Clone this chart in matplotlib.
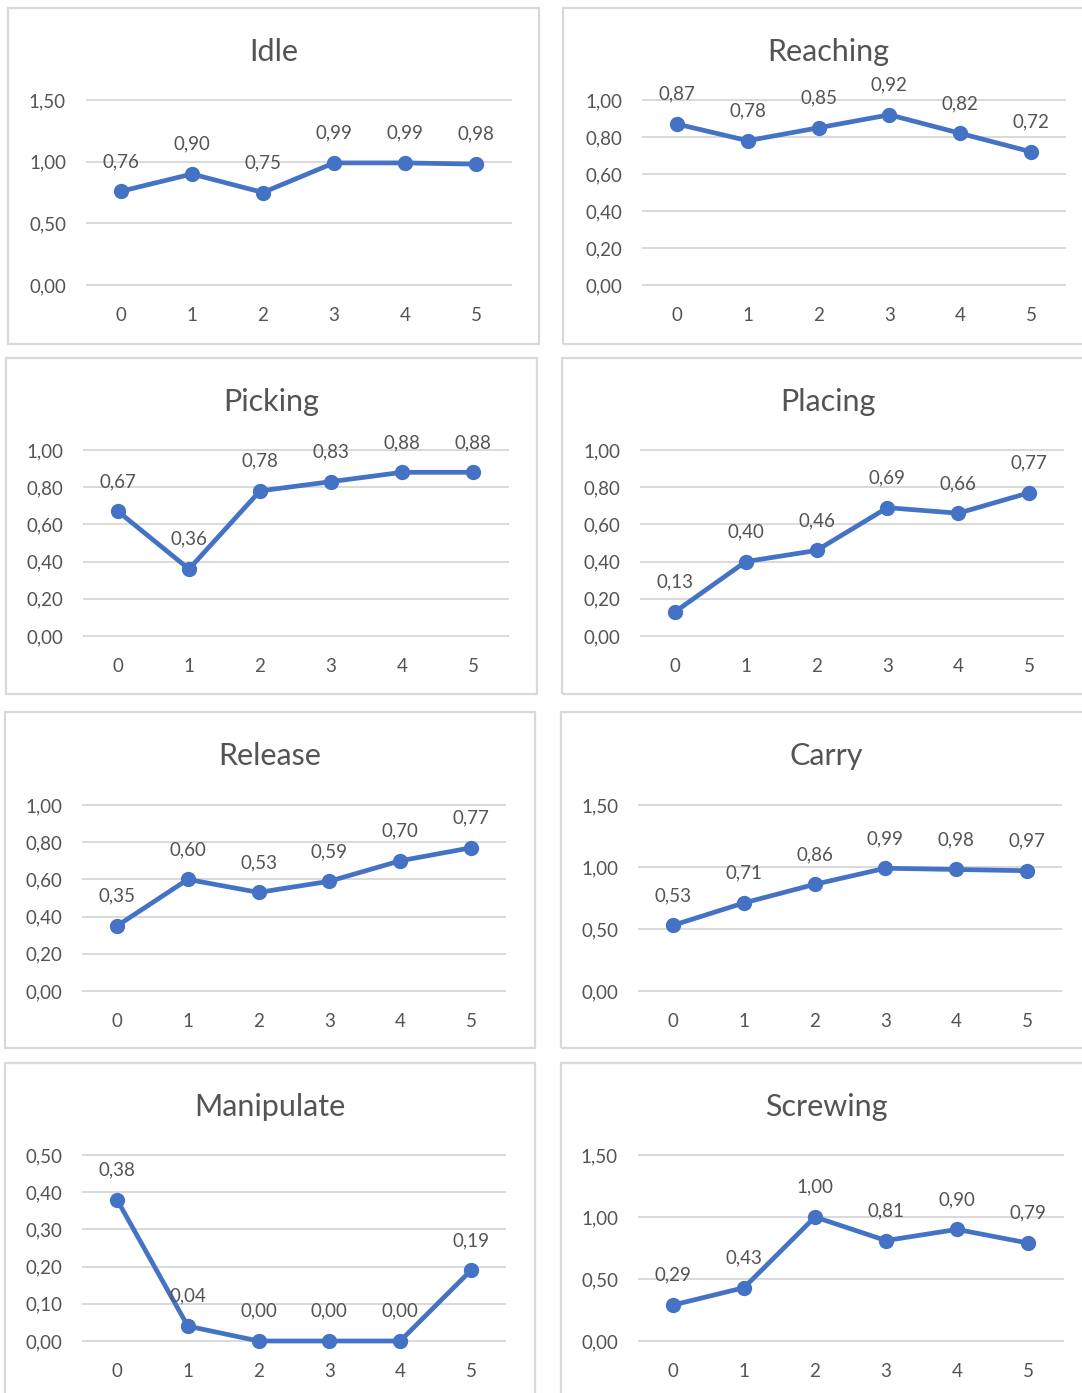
import matplotlib.pyplot as plt
import numpy as np
from matplotlib.patches import Rectangle

W, H = 1082, 1393

titles = ["Idle", "Reaching", "Picking", "Placing", "Release", "Carry", "Manipulate", "Screwing"]
steps = [0, 1, 2, 3, 4, 5]
idle = [0.76, 0.90, 0.75, 0.99, 0.99, 0.98]
reaching = [0.87, 0.78, 0.85, 0.92, 0.82, 0.72]
picking = [0.67, 0.36, 0.78, 0.83, 0.88, 0.88]
placing = [0.13, 0.40, 0.46, 0.69, 0.66, 0.77]
release = [0.35, 0.60, 0.53, 0.59, 0.70, 0.77]
carry = [0.53, 0.71, 0.86, 0.99, 0.98, 0.97]
manipulate = [0.38, 0.04, 0.00, 0.00, 0.00, 0.19]
screwing = [0.29, 0.43, 1.00, 0.81, 0.90, 0.79]
series = [idle, reaching, picking, placing, release, carry, manipulate, screwing]
ymax = [1.5, 1.0, 1.0, 1.0, 1.0, 1.5, 0.5, 1.5]
ystep = [0.5, 0.2, 0.2, 0.2, 0.2, 0.5, 0.1, 0.5]

# pixel layout: chart box (x0, y0, x1, y1) and plot area (left, top, right, bottom)
boxes = [(8, 8, 539, 344), (563, 8, 1094, 344),
         (6, 358, 537, 694), (562, 358, 1093, 694),
         (5, 712, 535, 1048), (561, 712, 1092, 1048),
         (5, 1063, 535, 1400), (561, 1063, 1092, 1400)]
plots = [(85.5, 100, 511.5, 285), (641.6, 100, 1066.4, 285),
         (82.5, 450, 508.5, 636), (639.6, 450, 1064.4, 636),
         (81.6, 805, 506.4, 991), (637.6, 805, 1062.4, 991),
         (81.6, 1155, 506.4, 1341), (637.5, 1155, 1063.5, 1341)]

blue = "#4472C4"
txt = "#545454"
grid = "#D9D9D9"
plt.rcParams["font.family"] = ["Lato", "DejaVu Sans"]

fig = plt.figure(figsize=(W / 100, H / 100), dpi=100)


def fmt(v):
    return f"{v:.2f}".replace(".", ",")


for title, vals, top, step, box, pa in zip(titles, series, ymax, ystep, boxes, plots):
    x0, y0, x1, y1 = box
    fig.add_artist(Rectangle((x0 / W, 1 - y1 / H), (x1 - x0) / W, (y1 - y0) / H,
                             transform=fig.transFigure, fill=False, ec=grid, lw=1.6))
    fig.text((x0 + x1) / 2 / W, 1 - (y0 + 53) / H, title, ha="center", va="baseline",
             fontsize=22, color=txt)

    l, t, r, b = pa
    ax = fig.add_axes([l / W, 1 - b / H, (r - l) / W, (b - t) / H])
    ax.patch.set_alpha(0)
    ax.set_xlim(-0.5, 5.5)
    ax.set_ylim(0, top)
    yt = np.round(np.arange(0, top + step / 2, step), 2)
    ax.hlines(yt, -0.5, 5.5, color=grid, lw=1.4, clip_on=False, zorder=0)
    ax.set_yticks(yt)
    ax.set_yticklabels([fmt(v) for v in yt])
    ax.set_xticks(steps)
    ax.set_xticklabels([str(s) for s in steps])
    ax.tick_params(axis="y", length=0, pad=14, labelsize=13.5, labelcolor=txt)
    ax.tick_params(axis="x", length=0, pad=15.5, labelsize=13.5, labelcolor=txt)
    for s in ax.spines.values():
        s.set_visible(False)

    ax.plot(steps, vals, color=blue, lw=3.4, marker="o", ms=10, clip_on=False, zorder=3)
    for x, v in zip(steps, vals):
        ax.annotate(fmt(v), (x, v), xytext=(0, 21.5), textcoords="offset points",
                    ha="center", va="center", fontsize=13.5, color=txt, zorder=4)

fig.savefig("out.png", dpi=100, facecolor="white")
